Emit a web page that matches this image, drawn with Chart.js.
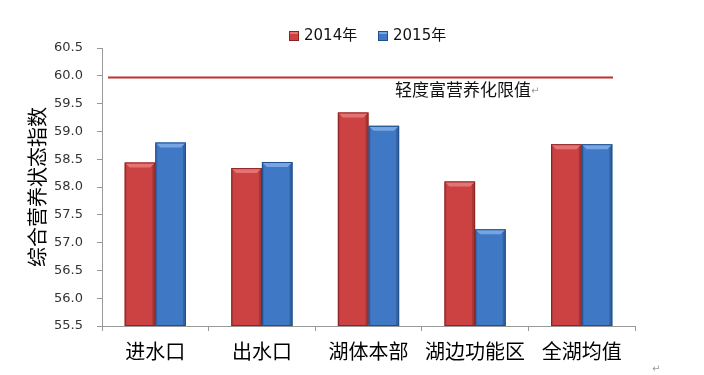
<!DOCTYPE html>
<html>
<head>
<meta charset="utf-8">
<script src="https://cdn.jsdelivr.net/npm/chart.js@4"></script>
<style>
  html, body { margin: 0; padding: 0; background: #fff; }
  #wrap { position: relative; width: 704px; height: 375px; }
</style>
</head>
<body>
<div id="wrap"><canvas id="chart" width="704" height="375"></canvas></div>
<script>
const categories = ["进水口", "出水口", "湖体本部", "湖边功能区", "全湖均值"];
const values2014 = [58.44, 58.34, 59.34, 58.10, 58.77];
const values2015 = [58.80, 58.45, 59.10, 57.24, 58.77];
const seriesNames = ["2014年", "2015年"];
const limitValue = 59.97;
const limitLabel = "轻度富营养化限值";
const yTitle = "综合营养状态指数";

const RED = "#cc4242", RED_TOP = "#e67373", RED_DARK = "#8c2424";
const BLUE = "#3f78c4", BLUE_TOP = "#77a5e3", BLUE_DARK = "#214f8c";

// bevelled bar look (top facet + darker right side)
const bevelBars = {
  id: "bevelBars",
  afterDatasetsDraw(chart) {
    const ctx = chart.ctx;
    const bottom = chart.chartArea.bottom;
    chart.data.datasets.forEach((ds, i) => {
      const meta = chart.getDatasetMeta(i);
      meta.data.forEach((bar) => {
        const { x, y, width } = bar.getProps(["x", "y", "width"], true);
        const base = bottom;
        const l = x - width / 2, r = x + width / 2, b = 5;
        ctx.save();
        ctx.fillStyle = ds.topColor;
        ctx.beginPath();
        ctx.moveTo(l, y); ctx.lineTo(r, y); ctx.lineTo(r - b, y + b); ctx.lineTo(l + b, y + b);
        ctx.closePath(); ctx.fill();
        ctx.fillStyle = "rgba(0,0,0,0.18)";
        ctx.beginPath();
        ctx.moveTo(r, y); ctx.lineTo(r, base); ctx.lineTo(r - 3, base); ctx.lineTo(r - 3, y + 3);
        ctx.closePath(); ctx.fill();
        ctx.fillStyle = "rgba(0,0,0,0.10)";
        ctx.fillRect(l, y + 2, 2, base - y - 2);
        ctx.strokeStyle = ds.borderColor;
        ctx.lineWidth = 1;
        ctx.strokeRect(l + 0.5, y + 0.5, width - 1, base - y - 1);
        ctx.restore();
      });
    });
  }
};

// limit line, its label and the legend
const extras = {
  id: "extras",
  afterDraw(chart) {
    const ctx = chart.ctx;
    const { left, right } = chart.chartArea;
    const yPix = chart.scales.y.getPixelForValue(limitValue);
    ctx.save();
    ctx.strokeStyle = "#c0302e";
    ctx.lineWidth = 2;
    ctx.beginPath();
    ctx.moveTo(left + 6, yPix);
    ctx.lineTo(right - 22, yPix);
    ctx.stroke();

    ctx.fillStyle = "#111";
    ctx.font = '17px "Noto Sans CJK SC"';
    ctx.textBaseline = "middle";
    ctx.fillText(limitLabel, 395, yPix + 12);
    const w = ctx.measureText(limitLabel).width;
    ctx.fillStyle = "#999";
    ctx.font = '10px "DejaVu Sans"';
    ctx.fillText("↵", 395 + w, yPix + 14);
    ctx.fillText("↵", 652, 369);

    // legend
    const items = [[289, 0], [378, 1]];
    ctx.font = '15px "DejaVu Sans", "Noto Sans CJK SC"';
    items.forEach(([lx, i]) => {
      const ds = chart.data.datasets[i];
      ctx.fillStyle = ds.backgroundColor;
      ctx.fillRect(lx, 31, 10, 10);
      ctx.fillStyle = ds.topColor;
      ctx.fillRect(lx, 31, 10, 3);
      ctx.strokeStyle = ds.borderColor;
      ctx.lineWidth = 1;
      ctx.strokeRect(lx + 0.5, 31.5, 9, 9);
      ctx.fillStyle = "#111";
      ctx.fillText(ds.label, lx + 15, 36);
    });
    ctx.restore();
  }
};

new Chart(document.getElementById("chart"), {
  type: "bar",
  data: {
    labels: categories,
    datasets: [
      { label: seriesNames[0], data: values2014, backgroundColor: RED, borderColor: RED_DARK, topColor: RED_TOP, borderWidth: 0 },
      { label: seriesNames[1], data: values2015, backgroundColor: BLUE, borderColor: BLUE_DARK, topColor: BLUE_TOP, borderWidth: 0 },
    ],
  },
  options: {
    responsive: false,
    animation: false,
    layout: { padding: { left: 0, top: 48, right: 69, bottom: 0 } },
    datasets: { bar: { categoryPercentage: 0.575, barPercentage: 1.0 } },
    plugins: { legend: { display: false }, tooltip: { enabled: false } },
    scales: {
      x: {
        grid: { drawOnChartArea: false, drawTicks: true, tickLength: 5, color: "#999", offset: true },
        border: { color: "#999" },
        ticks: { color: "#000", font: { family: "Noto Sans CJK SC", size: 20 }, padding: 8 },
        afterFit(scale) { scale.height = 49; },
      },
      y: {
        min: 55.5,
        max: 60.5,
        grid: { drawOnChartArea: false, drawTicks: true, tickLength: 5, color: "#999" },
        border: { color: "#999" },
        ticks: {
          stepSize: 0.5,
          color: "#333",
          font: { family: "DejaVu Sans", size: 13 },
          padding: 14,
          callback: (v) => Number(v).toFixed(1),
        },
        title: {
          display: true,
          text: yTitle,
          color: "#000",
          font: { family: "Noto Sans CJK SC", size: 20 },
          padding: { top: 25, bottom: 0 },
        },
        afterFit(scale) { scale.width = 102; },
      },
    },
  },
  plugins: [bevelBars, extras],
});
</script>
</body>
</html>
